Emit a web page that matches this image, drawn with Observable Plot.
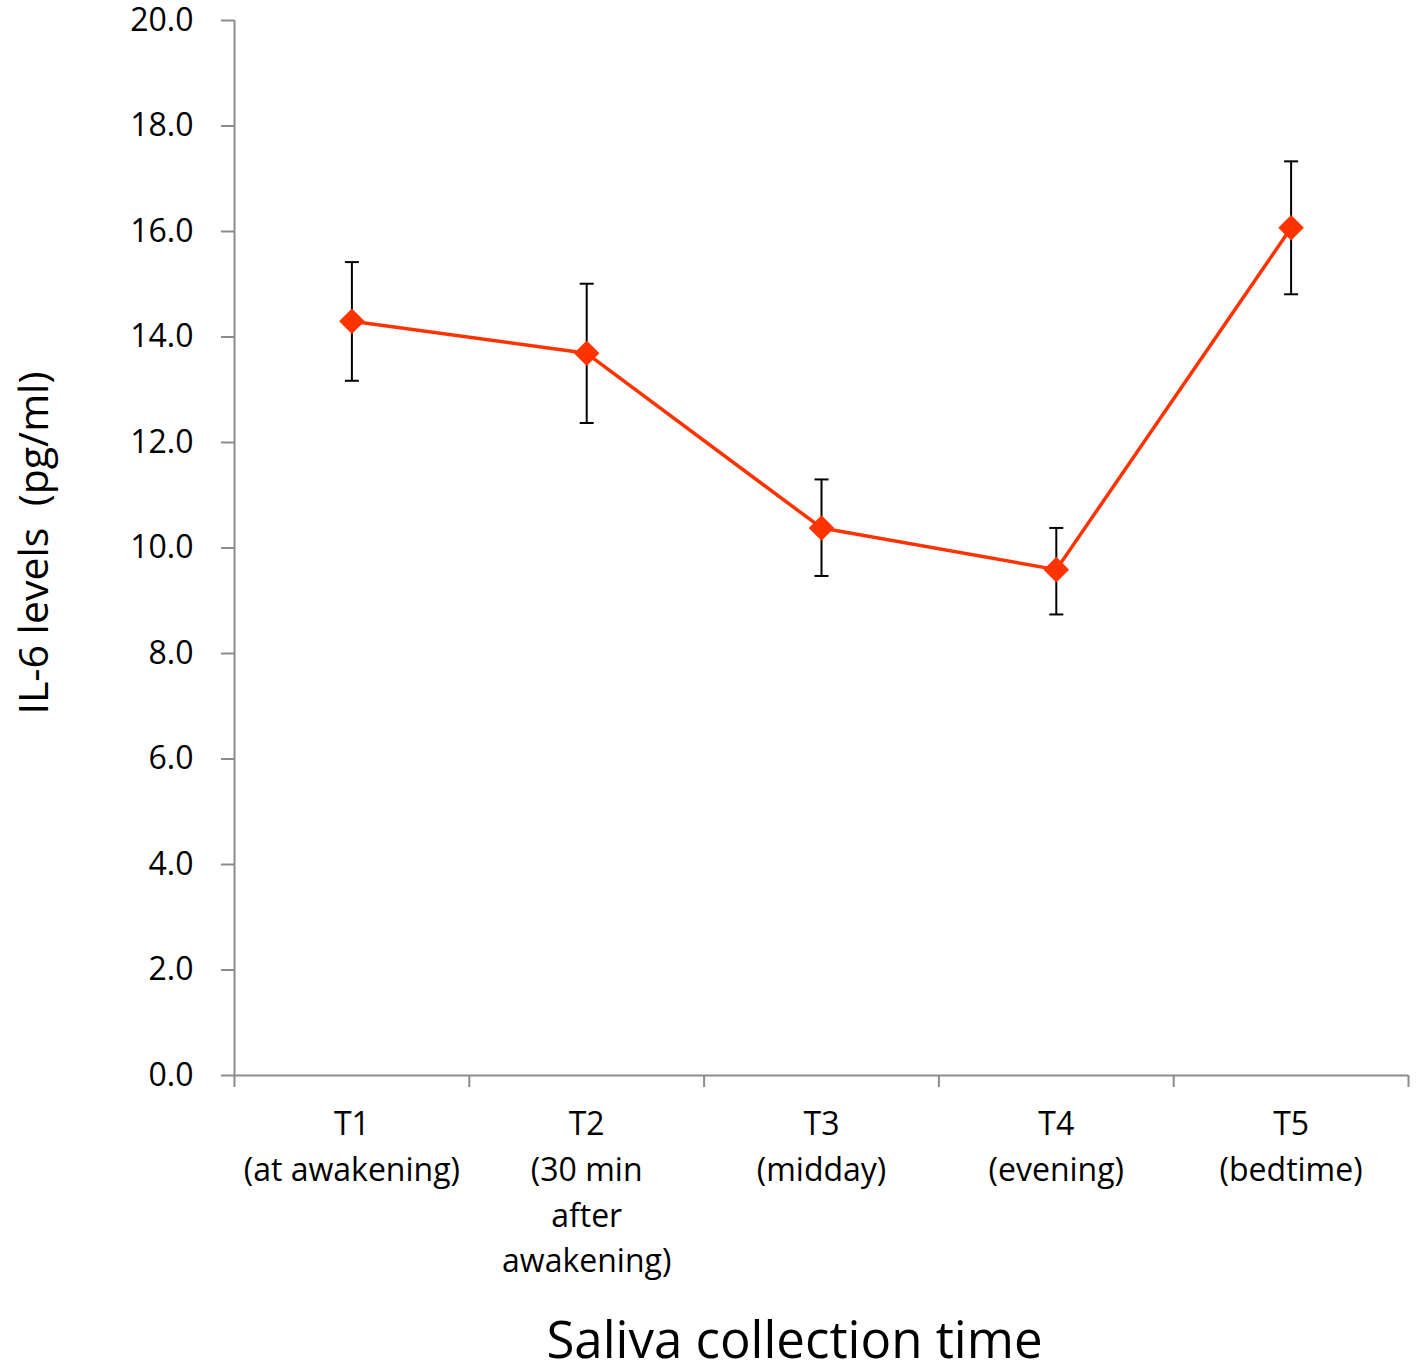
<!DOCTYPE html>
<html>
<head>
<meta charset="utf-8">
<script src="https://cdn.jsdelivr.net/npm/d3@7"></script>
<script src="https://cdn.jsdelivr.net/npm/@observablehq/plot@0.6"></script>
<style>
  html, body { margin: 0; padding: 0; background: #fff; }
  svg text { white-space: pre; }
</style>
</head>
<body>
<div id="chart"></div>
<script>
const categories = ["T1", "T2", "T3", "T4", "T5"];
const tickLabels = [
  "T1\n(at awakening)",
  "T2\n(30 min\nafter\nawakening)",
  "T3\n(midday)",
  "T4\n(evening)",
  "T5\n(bedtime)"
];
const means = [14.30, 13.69, 10.38, 9.59, 16.07];
const upper = [15.42, 15.01, 11.30, 10.38, 17.33];
const lower = [13.17, 12.37, 9.47, 8.74, 14.81];
const yTicks = [0, 2, 4, 6, 8, 10, 12, 14, 16, 18, 20];
const xBoundaries = [0, 1, 2, 3, 4, 5];

const rows = categories.map((c, i) => ({
  cat: c, label: tickLabels[i], pos: i + 0.5,
  mean: means[i], hi: upper[i], lo: lower[i]
}));

const axisGray = "#8c8c8c";
const lineColor = "#ff3300";
const font = "'Open Sans', 'Noto Sans', sans-serif";

const capSymbol = {
  draw(context, size) {
    const w = Math.sqrt(size / Math.PI);
    context.moveTo(-w, 0);
    context.lineTo(w, 0);
  }
};

const chart = Plot.plot({
  width: 1417,
  height: 1371,
  marginLeft: 234,
  marginRight: 9,
  marginTop: 20,
  marginBottom: 296,
  style: { fontFamily: font, background: "#fff", color: "#000", overflow: "visible" },
  x: { type: "linear", domain: [0, 5], axis: null },
  y: { type: "linear", domain: [0, 20], axis: null },
  marks: [
    // y axis ticks
    Plot.axisY({ ticks: yTicks, tickFormat: () => "", tickSize: 13, stroke: axisGray, strokeWidth: 2, label: null }),
    // y axis labels
    Plot.axisY({ ticks: yTicks, tickFormat: d => d.toFixed(1), tickSize: 0, tickPadding: 41, fontSize: 32, fill: "#000", label: null }),
    // x axis boundary ticks
    Plot.axisX({ ticks: xBoundaries, tickFormat: () => "", tickSize: 12, stroke: axisGray, strokeWidth: 2, label: null }),
    // axis lines
    Plot.ruleX([0], { stroke: axisGray, strokeWidth: 2 }),
    Plot.ruleY([0], { stroke: axisGray, strokeWidth: 2 }),
    // x category labels
    Plot.text(rows, {
      x: "pos", y: () => 0, text: "label",
      dy: 27, lineAnchor: "top", lineHeight: 1.43,
      fontSize: 32, fill: "#000"
    }),
    // series line
    Plot.line(rows, { x: "pos", y: "mean", stroke: lineColor, strokeWidth: 3.5 }),
    // error bars
    Plot.ruleX(rows, { x: "pos", y1: "lo", y2: "hi", stroke: "#000", strokeWidth: 2 }),
    Plot.dot(rows, { x: "pos", y: "hi", symbol: capSymbol, r: 7, fill: "none", stroke: "#000", strokeWidth: 2 }),
    Plot.dot(rows, { x: "pos", y: "lo", symbol: capSymbol, r: 7, fill: "none", stroke: "#000", strokeWidth: 2 }),
    // markers
    Plot.dot(rows, { x: "pos", y: "mean", symbol: "diamond2", r: 11.5, fill: lineColor, stroke: "none" }),
    // axis titles
    Plot.text(["IL-6 levels  (pg/ml)"], {
      frameAnchor: "left", dx: -200, dy: -5, rotate: -90, fontSize: 41, fill: "#000",
      textAnchor: "middle", lineAnchor: "middle"
    }),
    Plot.text(["Saliva collection time"], {
      frameAnchor: "bottom", dx: -27, dy: 266, fontSize: 51, fill: "#000",
      textAnchor: "middle", lineAnchor: "middle"
    })
  ]
});

document.getElementById("chart").appendChild(chart);
</script>
</body>
</html>
